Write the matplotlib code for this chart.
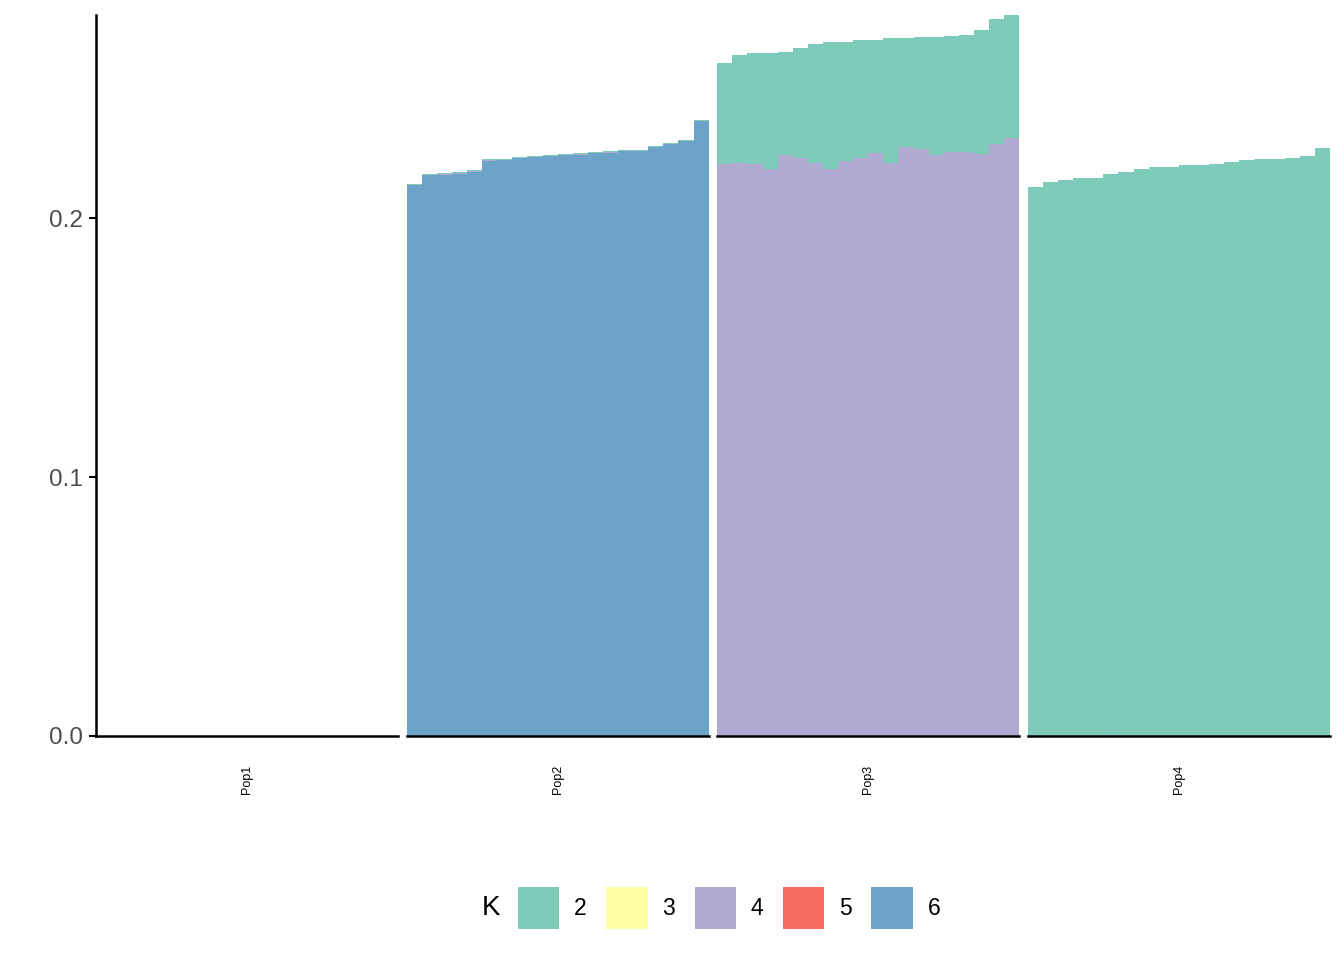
import numpy as np
import matplotlib
matplotlib.use("Agg")
import matplotlib.pyplot as plt
from matplotlib.patches import Patch

plt.rcParams['font.family'] = ['Liberation Sans', 'DejaVu Sans']

# populations and cluster labels
pops = ["Pop1", "Pop2", "Pop3", "Pop4"]
k_labels = ["2", "3", "4", "5", "6"]
k_colors = {"2": "#7ecbba", "3": "#ffffa6", "4": "#b0aad0", "5": "#f76a60", "6": "#6da2c9"}
n_ind = 20

# per-individual values (Pop1 has nothing drawn)
pop2_k2 = [0.0004] * n_ind
pop2_k4 = [0, 0, 0.0005, 0.0005, 0.0005, 0.0005, 0, 0, 0, 0,
           0, 0.0005, 0, 0.0005, 0, 0, 0, 0, 0, 0]
pop2_k6 = [0.2127, 0.2166, 0.2165, 0.2169, 0.2176, 0.2219, 0.2224, 0.2232, 0.2235, 0.2239,
           0.2244, 0.2242, 0.2251, 0.2250, 0.2259, 0.2259, 0.2274, 0.2286, 0.2297, 0.2374]

pop3_k2 = [0.0388, 0.0417, 0.0427, 0.0448, 0.0398, 0.0423, 0.0460, 0.0491, 0.0460, 0.0454,
           0.0436, 0.0483, 0.0421, 0.0433, 0.0456, 0.0447, 0.0451, 0.0478, 0.0481, 0.0474]
pop3_k4 = [0.2210, 0.2212, 0.2210, 0.2189, 0.2243, 0.2233, 0.2212, 0.2189, 0.2220, 0.2233,
           0.2251, 0.2212, 0.2274, 0.2266, 0.2243, 0.2256, 0.2256, 0.2248, 0.2287, 0.2310]

pop4_k2 = [0.2120, 0.2139, 0.2147, 0.2154, 0.2154, 0.2165, 0.2178, 0.2189, 0.2197, 0.2197,
           0.2205, 0.2205, 0.2208, 0.2216, 0.2224, 0.2228, 0.2228, 0.2232, 0.2239, 0.2270]
pop4_k4 = [0, 0, 0, 0, 0, 0.0005, 0, 0, 0, 0,
           0, 0, 0, 0, 0, 0, 0, 0, 0, 0]

data = {
    "Pop1": {},
    "Pop2": {"2": pop2_k2, "4": pop2_k4, "6": pop2_k6},
    "Pop3": {"2": pop3_k2, "4": pop3_k4},
    "Pop4": {"2": pop4_k2, "4": pop4_k4},
}

ymax = max(np.sum([np.array(v) for v in d.values()], axis=0).max()
           for d in data.values() if d)

fig = plt.figure(figsize=(13.44, 9.6), dpi=100)
W, H = 1344, 960
panel_w = 302
step = 310.6
x0 = 96
y_bot, y_top = 736, 15

for i, pop in enumerate(pops):
    left = (x0 + i * step) / W
    ax = fig.add_axes([left, (H - y_bot) / H, panel_w / W, (y_bot - y_top) / H])
    x = np.arange(1, n_ind + 1)
    bottom = np.zeros(n_ind)
    # ggplot stacks the first level on top, so draw from K6 down to K2
    for k in reversed(k_labels):
        if k in data[pop]:
            vals = np.array(data[pop][k])
            ax.bar(x, vals, width=1.0, bottom=bottom, color=k_colors[k], linewidth=0)
            bottom += vals
    ax.set_xlim(0.5, n_ind + 0.5)
    ax.set_ylim(0, ymax)
    ax.set_xticks([])
    for s in ["top", "right"]:
        ax.spines[s].set_visible(False)
    ax.spines["bottom"].set_linewidth(1.8)
    ax.spines["bottom"].set_zorder(5)
    if i == 0:
        ax.spines["left"].set_linewidth(1.8)
        ax.set_yticks([0.0, 0.1, 0.2])
        ax.set_yticklabels(["0.0", "0.1", "0.2"])
        ax.tick_params(axis="y", length=5, width=1.5, pad=4.5,
                       labelsize=17.5, labelcolor="#4d4d4d")
    else:
        ax.spines["left"].set_visible(False)
        ax.set_yticks([])
    ax.text(0.5, -0.06, pop, transform=ax.transAxes, rotation=90,
            ha="center", va="center", fontsize=9)

handles = [Patch(facecolor=k_colors[k], edgecolor="none") for k in k_labels]
fig.legend(handles, k_labels, loc="center", bbox_to_anchor=(0.5425, 1 - 908 / H),
           ncol=5, frameon=False, fontsize=16.5, handlelength=1.8, handleheight=2.44,
           handletextpad=0.65, columnspacing=0.85, borderaxespad=0)
fig.text(491 / W, 1 - 908 / H, "K", ha="center", va="center", fontsize=20)

fig.savefig("out.png", dpi=100)
